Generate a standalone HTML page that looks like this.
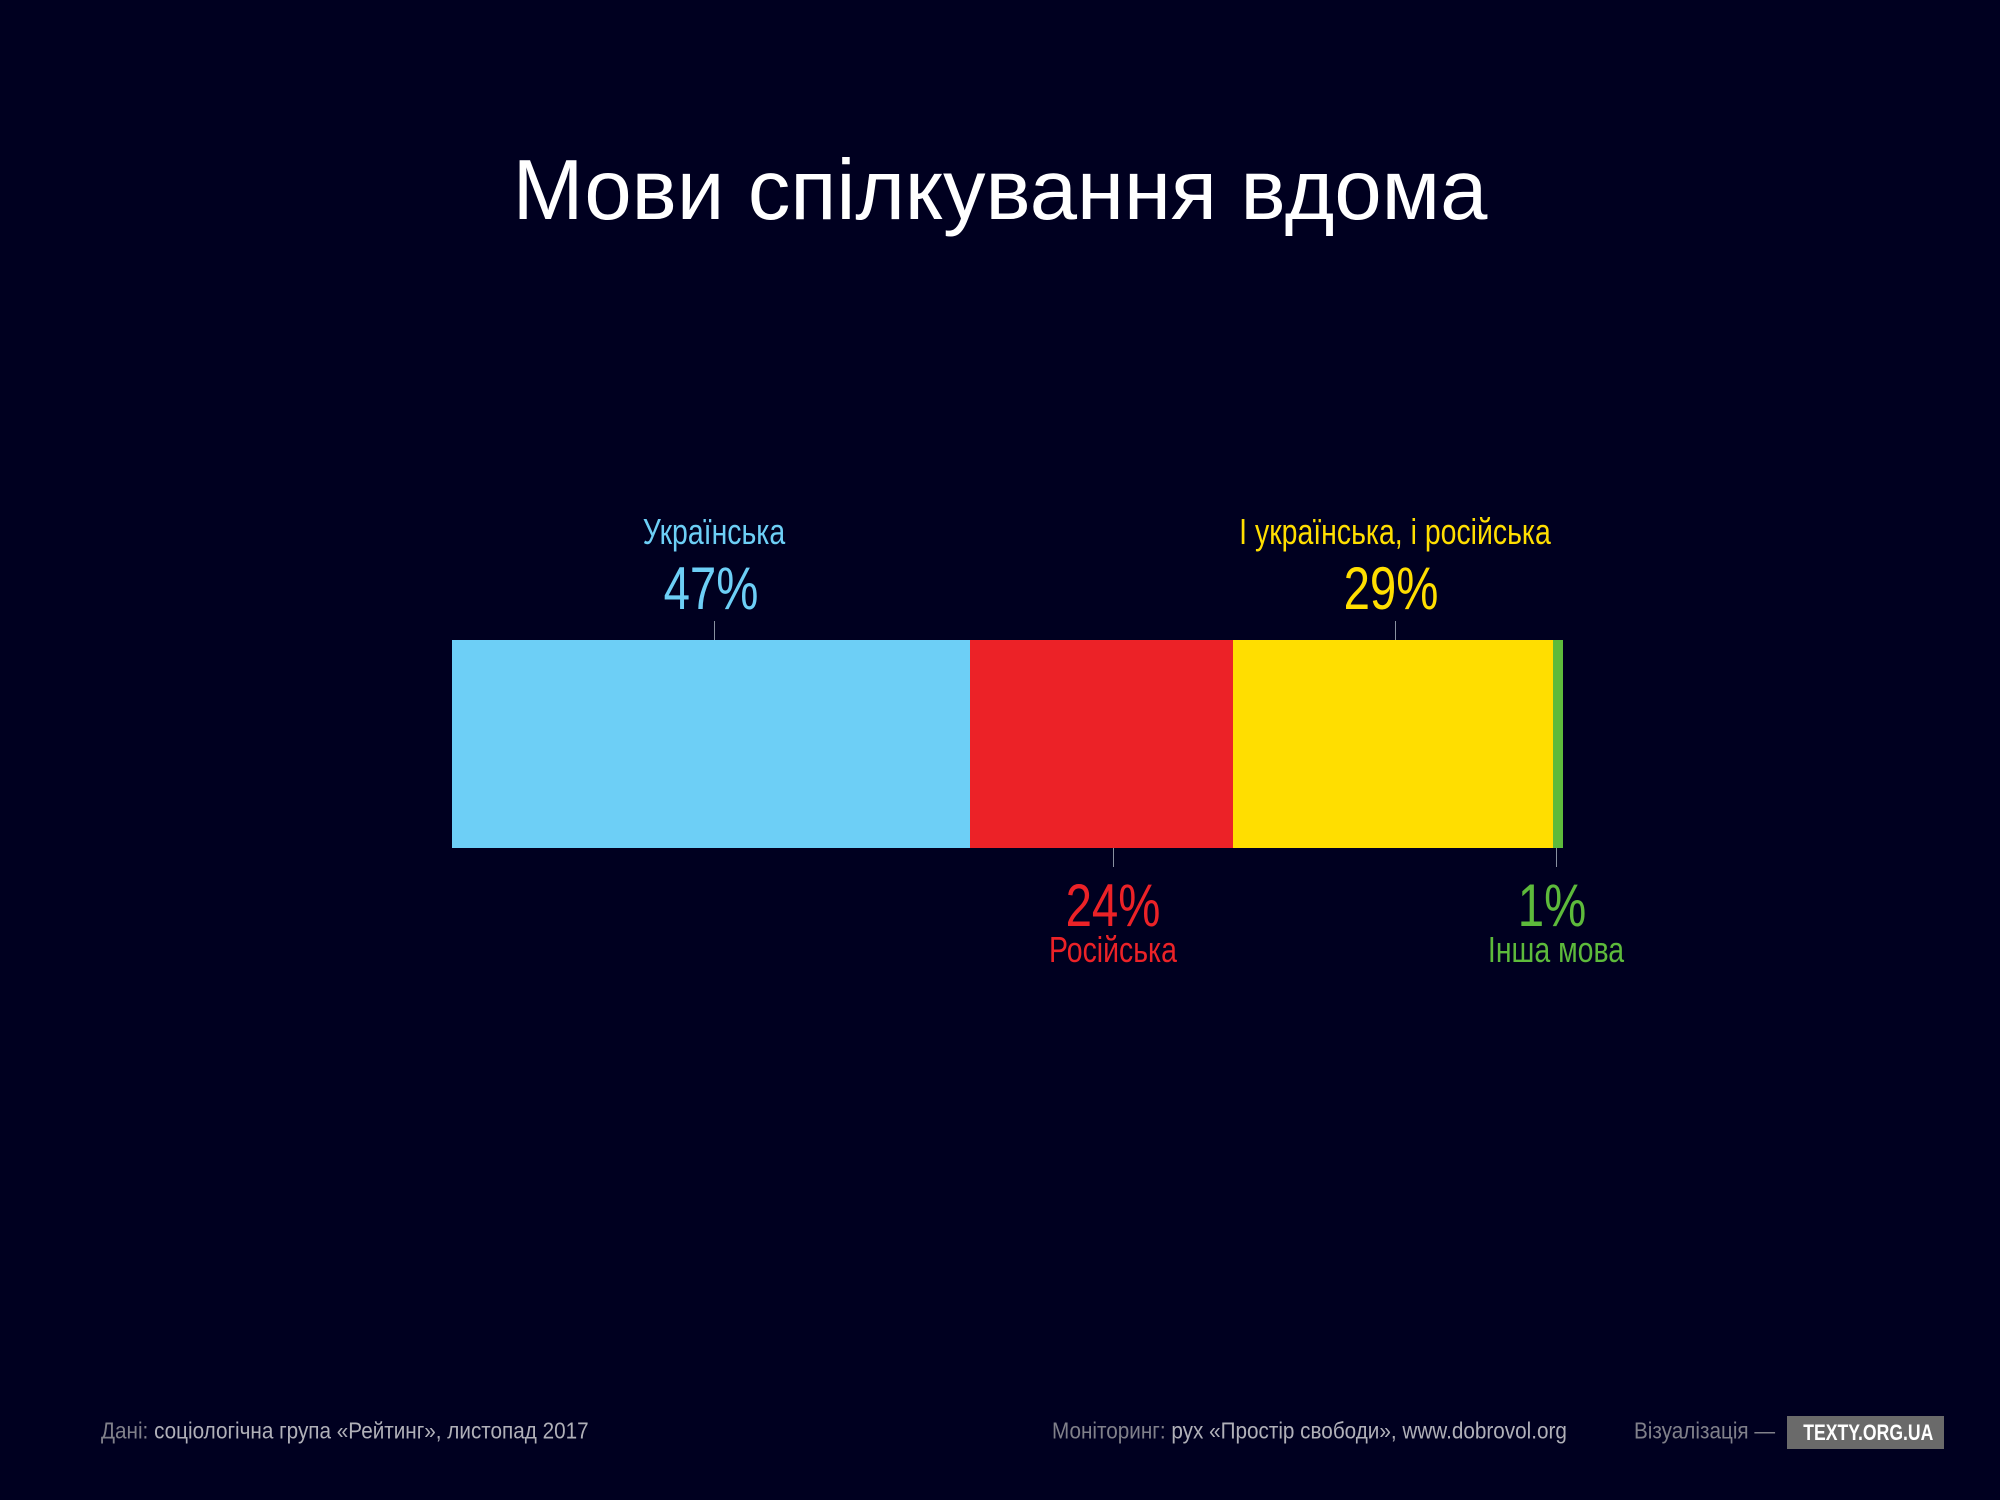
<!DOCTYPE html>
<html><head><meta charset="utf-8"><style>
html,body{margin:0;padding:0}
body{width:2000px;height:1500px;background:#000020;position:relative;overflow:hidden;font-family:"Liberation Sans",sans-serif}
.t{position:absolute;white-space:nowrap;transform:translate(-50%,-50%) scaleX(.79);line-height:1}
.l{font-size:36px}
.p{font-size:60px}
.bar{position:absolute;top:640px;height:208px}
.tick{position:absolute;width:1px;background:#8890a0}
.f{position:absolute;top:1431px;transform:translateY(-50%) scaleX(.9);transform-origin:left center;font-size:23px;white-space:nowrap;color:#b0b0b8;line-height:1}
.f span{color:#80808a}
</style></head><body>
<div style="position:absolute;left:0;width:2000px;top:148px;text-align:center;color:#fff;font-size:85px;line-height:1">Мови спілкування вдома</div>

<div class="bar" style="left:452px;width:518px;background:#6dcff6"></div>
<div class="bar" style="left:970px;width:263px;background:#ec2227"></div>
<div class="bar" style="left:1233px;width:320px;background:#ffde00"></div>
<div class="bar" style="left:1553px;width:10px;background:#5dba3b"></div>

<div class="tick" style="left:714px;top:621px;height:19px"></div>
<div class="tick" style="left:1395px;top:621px;height:19px"></div>
<div class="tick" style="left:1113px;top:848px;height:19px"></div>
<div class="tick" style="left:1556px;top:848px;height:19px"></div>

<div class="t l" style="left:714px;top:532px;color:#6dcff6">Українська</div>
<div class="t p" style="left:711px;top:589px;color:#6dcff6">47%</div>
<div class="t l" style="left:1395px;top:532px;color:#ffde00">І українська, і російська</div>
<div class="t p" style="left:1391px;top:589px;color:#ffde00">29%</div>
<div class="t p" style="left:1113px;top:906px;color:#ec2227">24%</div>
<div class="t l" style="left:1113px;top:950px;color:#ec2227">Російська</div>
<div class="t p" style="left:1552px;top:906px;color:#5dba3b">1%</div>
<div class="t l" style="left:1556px;top:950px;color:#5dba3b">Інша мова</div>

<div class="f" style="left:101px"><span>Дані:</span> соціологічна група «Рейтинг», листопад 2017</div>
<div class="f" style="left:1052px"><span>Моніторинг:</span> рух «Простір свободи», www.dobrovol.org</div>
<div class="f" style="left:1634px"><span>Візуалізація —</span></div>
<div style="position:absolute;left:1787px;top:1416px;width:157px;height:33px;background:#6a6a6a;color:#fff;font-size:22px;font-weight:bold;line-height:33px;text-align:center"><span style="display:inline-block;transform:scaleX(.8)">TEXTY.ORG.UA</span></div>
</body></html>
